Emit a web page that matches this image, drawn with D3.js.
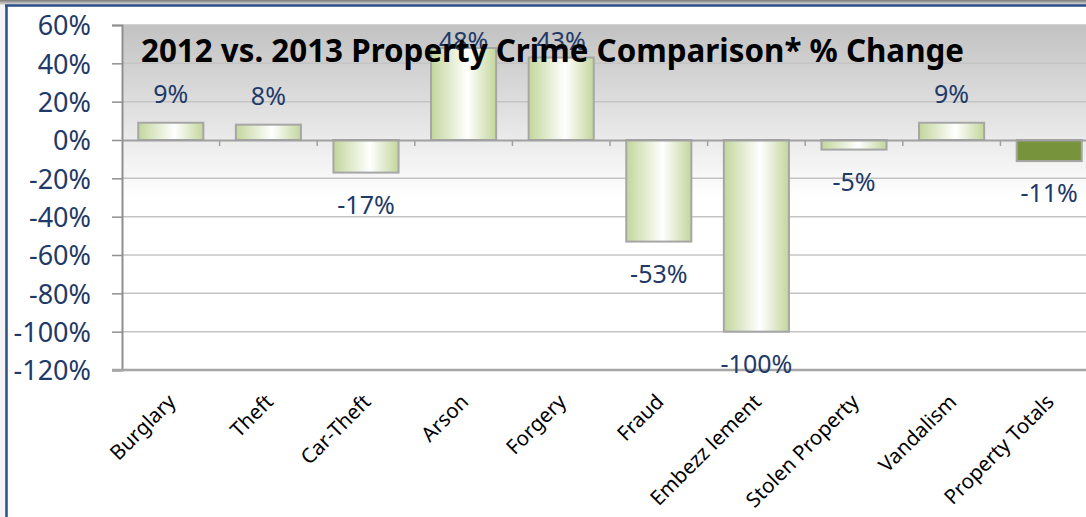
<!DOCTYPE html>
<html>
<head>
<meta charset="utf-8">
<script src="https://cdn.jsdelivr.net/npm/d3@7"></script>
<style>
  html, body { margin: 0; padding: 0; background: #fff; overflow: hidden; }
  svg { display: block; }
</style>
</head>
<body>
<svg id="chart" width="1086" height="517"></svg>
<script>
const categories = ["Burglary", "Theft", "Car-Theft", "Arson", "Forgery", "Fraud", "Embezz lement", "Stolen Property", "Vandalism", "Property Totals"];
const changes = [9, 8, -17, 48, 43, -53, -100, -5, 9, -11];
const valueLabels = ["9%", "8%", "-17%", "48%", "43%", "-53%", "-100%", "-5%", "9%", "-11%"];
const yTicks = [60, 40, 20, 0, -20, -40, -60, -80, -100, -120];
const titleText = "2012 vs. 2013 Property Crime Comparison* % Change";
const totalCategory = "Property Totals";

(function () {
const svg = d3.select("#chart");
const W = 1086, H = 517;
const pLeft = 122, pRight = 1098, pTop = 25, pBottom = 370;

const defs = svg.append("defs");
const bg = defs.append("linearGradient").attr("id", "plotBg").attr("x1", 0).attr("y1", 0).attr("x2", 0).attr("y2", 1);
bg.append("stop").attr("offset", 0).attr("stop-color", "#c2c2c2");
bg.append("stop").attr("offset", 0.5).attr("stop-color", "#ffffff");
bg.append("stop").attr("offset", 1).attr("stop-color", "#ffffff");

const barG = defs.append("linearGradient").attr("id", "barFill").attr("x1", 0).attr("y1", 0).attr("x2", 1).attr("y2", 0);
barG.append("stop").attr("offset", 0).attr("stop-color", "#c3d69b");
barG.append("stop").attr("offset", 0.56).attr("stop-color", "#ffffff");
barG.append("stop").attr("offset", 1).attr("stop-color", "#c3d69b");

const shadow = defs.append("linearGradient").attr("id", "shadow").attr("x1", 0).attr("y1", 0).attr("x2", 0).attr("y2", 1);
shadow.append("stop").attr("offset", 0).attr("stop-color", "#7a7a7a");
shadow.append("stop").attr("offset", 1).attr("stop-color", "#e6e6e6");

// frame
svg.append("rect").attr("x", 0).attr("y", 0).attr("width", W).attr("height", 5).attr("fill", "url(#shadow)");
svg.append("rect").attr("x", 0).attr("y", 5).attr("width", 6).attr("height", H).attr("fill", "#f4f4f4");
svg.append("line").attr("x1", 5).attr("x2", W).attr("y1", 5.5).attr("y2", 5.5).attr("stroke", "#2b4f85").attr("stroke-width", 2.5);
svg.append("line").attr("x1", 6.5).attr("x2", 6.5).attr("y1", 5).attr("y2", H).attr("stroke", "#2b4f85").attr("stroke-width", 2.5);

const x = d3.scaleBand().domain(categories).range([pLeft, pRight]).paddingInner(0.333).paddingOuter(0.1665);
const y = d3.scaleLinear().domain([-120, 60]).range([pBottom, pTop]);

// plot background
svg.append("rect").attr("x", pLeft).attr("y", pTop).attr("width", pRight - pLeft).attr("height", pBottom - pTop).attr("fill", "url(#plotBg)");

// gridlines
svg.append("g").selectAll("line").data(yTicks.filter(t => t !== 0 && t !== -120)).join("line")
  .attr("x1", pLeft).attr("x2", pRight).attr("y1", d => y(d)).attr("y2", d => y(d))
  .attr("stroke", "#c4c4c4").attr("stroke-width", 1.5);

// y axis
const yAxis = svg.append("g").attr("transform", `translate(${pLeft},0)`)
  .call(d3.axisLeft(y).tickValues(yTicks).tickSize(10).tickFormat(d => d + "%"));
yAxis.select(".domain").attr("stroke", "#8f8f8f").attr("stroke-width", 2);
yAxis.selectAll(".tick line").attr("stroke", "#8f8f8f").attr("stroke-width", 1.5);
yAxis.selectAll(".tick text")
  .attr("x", -31).attr("dy", "0.36em")
  .attr("font-family", "'Noto Sans', sans-serif").attr("font-size", 27).attr("fill", "#1f3a68");

// bottom line
svg.append("line").attr("x1", pLeft - 10).attr("x2", pRight).attr("y1", pBottom).attr("y2", pBottom)
  .attr("stroke", "#a6a6a6").attr("stroke-width", 2.5);

// bars
const data = categories.map((c, i) => ({ c, v: changes[i], label: valueLabels[i] }));
svg.append("g").selectAll("rect").data(data).join("rect")
  .attr("x", d => x(d.c)).attr("width", x.bandwidth())
  .attr("y", d => Math.min(y(d.v), y(0))).attr("height", d => Math.abs(y(d.v) - y(0)))
  .attr("fill", d => d.c === totalCategory ? "#77933c" : "url(#barFill)")
  .attr("stroke", "#a6a6a6").attr("stroke-width", 2);

// zero axis with ticks
const xAxis = svg.append("g").attr("transform", `translate(0,${y(0)})`)
  .call(d3.axisBottom(x).tickSize(0).tickFormat(""));
xAxis.select(".domain").attr("stroke", "#a0a0a0").attr("stroke-width", 2);
const step = x.step();
svg.append("g").selectAll("line").data(categories.slice(1)).join("line")
  .attr("x1", d => x(d) - (step - x.bandwidth()) / 2).attr("x2", d => x(d) - (step - x.bandwidth()) / 2)
  .attr("y1", y(0)).attr("y2", y(0) + 6).attr("stroke", "#a0a0a0").attr("stroke-width", 1.5);

// data labels
svg.append("g").selectAll("text").data(data).join("text")
  .attr("x", d => x(d.c) + x.bandwidth() / 2)
  .attr("y", d => d.v >= 0 ? Math.max(y(d.v) - 20, 50) : y(d.v) + 41)
  .attr("text-anchor", "middle")
  .attr("font-family", "'Noto Sans', sans-serif").attr("font-size", 25).attr("fill", "#1f3a68")
  .text(d => d.label);

// category labels
svg.append("g").selectAll("text").data(categories).join("text")
  .attr("transform", d => `translate(${x(d) + x.bandwidth() / 2 + 1},398) rotate(-45)`)
  .attr("text-anchor", "end").attr("dy", "0.35em")
  .attr("font-family", "'Noto Sans', sans-serif").attr("font-size", 20.5).attr("fill", "#000")
  .text(d => d);

// title
svg.append("text").attr("x", 141).attr("y", 62)
  .attr("font-family", "'Noto Sans', sans-serif").attr("font-weight", "bold").attr("font-size", 32)
  .attr("textLength", 823).attr("lengthAdjust", "spacingAndGlyphs")
  .attr("fill", "#000").text(titleText);
})();
</script>
</body>
</html>
